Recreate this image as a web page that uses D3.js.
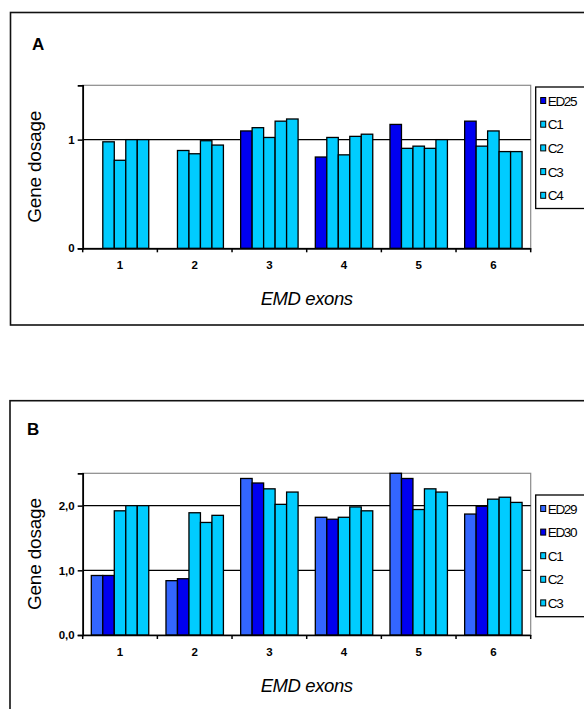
<!DOCTYPE html>
<html>
<head>
<meta charset="utf-8">
<script src="https://cdn.jsdelivr.net/npm/d3@7"></script>
<style>
  html, body { margin: 0; padding: 0; background: #fff; }
  svg { display: block; }
  text { font-family: "Liberation Sans", Arial, sans-serif; }
</style>
</head>
<body>
<svg id="chart" width="584" height="709"></svg>
<script>
// ---------- data ----------
const exons = ["1", "2", "3", "4", "5", "6"];

// Panel A
const seriesA = ["ED25", "C1", "C2", "C3", "C4"];
const aED25 = [null, null, 1.08, 0.84, 1.14, 1.17];
const aC1   = [0.98, 0.90, 1.11, 1.02, 0.92, 0.94];
const aC2   = [0.81, 0.87, 1.02, 0.86, 0.94, 1.08];
const aC3   = [1.00, 0.99, 1.17, 1.03, 0.92, 0.89];
const aC4   = [1.00, 0.95, 1.19, 1.05, 1.00, 0.89];
const yTicksA = [0, 1];
const yTickLabelsA = ["0", "1"];

// Panel B
const seriesB = ["ED29", "ED30", "C1", "C2", "C3"];
const bED29 = [0.92, 0.84, 2.42, 1.82, 2.50, 1.87];
const bED30 = [0.92, 0.87, 2.35, 1.79, 2.42, 1.99];
const bC1   = [1.92, 1.89, 2.26, 1.82, 1.94, 2.10];
const bC2   = [2.00, 1.74, 2.02, 1.98, 2.26, 2.13];
const bC3   = [2.00, 1.85, 2.21, 1.92, 2.21, 2.05];
const yTicksB = [0, 1, 2];
const yTickLabelsB = ["0,0", "1,0", "2,0"];

const colorsA = ["#0000f0", "#00ccff", "#00ccff", "#00ccff", "#00ccff"];
const colorsB = ["#3366ff", "#0000f0", "#00ccff", "#00ccff", "#00ccff"];

// ---------- drawing ----------
const svg = d3.select("#chart");

function drawPanel(cfg) {
  const g = svg.append("g");

  // outer frame
  g.append("rect")
    .attr("x", cfg.frame[0]).attr("y", cfg.frame[1])
    .attr("width", cfg.frame[2]).attr("height", cfg.frame[3])
    .attr("fill", "none").attr("stroke", "#111").attr("stroke-width", 1.6);

  // panel letter
  g.append("text")
    .attr("x", cfg.letterPos[0]).attr("y", cfg.letterPos[1])
    .attr("font-size", 17).attr("font-weight", "bold")
    .attr("fill", "#000")
    .text(cfg.letter);

  const x0 = d3.scaleBand().domain(exons).range([cfg.left, cfg.right]).paddingInner(0).paddingOuter(0);
  const x1 = d3.scaleBand().domain(cfg.series).range([0, x0.bandwidth()]).paddingInner(0).paddingOuter(0.75);
  const y = d3.scaleLinear().domain(cfg.domain).range([cfg.bottom, cfg.top]);

  // plot area border (gray)
  g.append("rect")
    .attr("x", cfg.left).attr("y", cfg.top)
    .attr("width", cfg.right - cfg.left).attr("height", cfg.bottom - cfg.top)
    .attr("fill", "none").attr("stroke", "#8a8a8a").attr("stroke-width", 1.2);

  // gridlines
  g.selectAll(".grid").data(cfg.ticks.filter(t => t > 0)).enter()
    .append("line")
    .attr("x1", cfg.left).attr("x2", cfg.right)
    .attr("y1", d => y(d)).attr("y2", d => y(d))
    .attr("stroke", "#000").attr("stroke-width", 1.2);

  // bars
  const rows = [];
  exons.forEach((ex, i) => {
    cfg.series.forEach((s, j) => {
      const v = cfg.values[j][i];
      if (v !== null) rows.push({ ex, s, v, c: cfg.colors[j] });
    });
  });
  g.selectAll(".bar").data(rows).enter()
    .append("rect")
    .attr("x", d => x0(d.ex) + x1(d.s))
    .attr("y", d => y(d.v))
    .attr("width", x1.bandwidth())
    .attr("height", d => y(0) - y(d.v))
    .attr("fill", d => d.c)
    .attr("stroke", "#000").attr("stroke-width", 1.3);

  // y axis
  const yAxis = d3.axisLeft(y).tickValues(cfg.ticks)
    .tickFormat((d, i) => cfg.tickLabels[i]).tickSize(5).tickPadding(3);
  const ya = g.append("g").attr("transform", `translate(${cfg.left},0)`).call(yAxis);
  ya.select(".domain").attr("stroke", "#000").attr("stroke-width", 1.7);
  ya.selectAll(".tick line").attr("stroke", "#000").attr("stroke-width", 1.5);
  ya.selectAll(".tick text")
    .attr("font-family", "Liberation Sans, Arial, sans-serif")
    .attr("font-size", 11.5).attr("font-weight", "bold").attr("fill", "#000");

  // x axis
  const xAxis = d3.axisBottom(x0).tickSize(0).tickPadding(13);
  const xa = g.append("g").attr("transform", `translate(0,${y(0)})`).call(xAxis);
  xa.select(".domain").attr("stroke", "#000").attr("stroke-width", 1.7);
  xa.selectAll(".tick text")
    .attr("font-family", "Liberation Sans, Arial, sans-serif")
    .attr("font-size", 11.5).attr("font-weight", "bold").attr("fill", "#000");
  // category boundary ticks
  const bounds = exons.map(e => x0(e)).concat([cfg.right]);
  g.selectAll(".xtick").data(bounds).enter()
    .append("line")
    .attr("x1", d => d).attr("x2", d => d)
    .attr("y1", y(0)).attr("y2", y(0) + 4)
    .attr("stroke", "#000").attr("stroke-width", 1.5);

  // axis titles
  g.append("text")
    .attr("transform", `translate(${cfg.yTitleX},${(cfg.top + cfg.bottom) / 2}) rotate(-90)`)
    .attr("text-anchor", "middle")
    .attr("font-size", 19).attr("fill", "#000")
    .attr("letter-spacing", "-0.2")
    .text("Gene dosage");
  g.append("text")
    .attr("x", (cfg.left + cfg.right) / 2).attr("y", cfg.xTitleY)
    .attr("text-anchor", "middle")
    .attr("font-size", 18.5).attr("font-style", "italic").attr("fill", "#000")
    .attr("letter-spacing", "-0.4")
    .text("EMD exons");

  // legend
  const lg = g.append("g");
  lg.append("rect")
    .attr("x", cfg.legend[0]).attr("y", cfg.legend[1])
    .attr("width", 80).attr("height", cfg.legend[2])
    .attr("fill", "#fff").attr("stroke", "#000").attr("stroke-width", 1.3);
  const items = lg.selectAll(".li").data(cfg.series).enter().append("g")
    .attr("transform", (d, i) => `translate(${cfg.legend[0] + 5},${cfg.legendY0 + i * cfg.legendStep})`);
  items.append("rect")
    .attr("x", 0).attr("y", -3).attr("width", 5).attr("height", 6)
    .attr("fill", (d, i) => cfg.colors[i]).attr("stroke", "#000").attr("stroke-width", 1);
  items.append("text")
    .attr("x", 7).attr("y", 5)
    .attr("font-size", 13.5).attr("letter-spacing", "-1.3").attr("fill", "#000")
    .text(d => d);
}

drawPanel({
  letter: "A", letterPos: [32, 50],
  frame: [10.5, 12.5, 600, 312.5],
  left: 82.7, right: 530.7, top: 85.3, bottom: 248.3,
  domain: [0, 1.5], ticks: yTicksA, tickLabels: yTickLabelsA,
  series: seriesA, values: [aED25, aC1, aC2, aC3, aC4], colors: colorsA,
  yTitleX: 41, xTitleY: 305,
  legend: [535.7, 87, 121.5], legendY0: 100.5, legendStep: 23.7
});

drawPanel({
  letter: "B", letterPos: [27, 435],
  frame: [10, 400.7, 600, 400],
  left: 82.7, right: 530.7, top: 473.3, bottom: 635,
  domain: [0, 2.5], ticks: yTicksB, tickLabels: yTickLabelsB,
  series: seriesB, values: [bED29, bED30, bC1, bC2, bC3], colors: colorsB,
  yTitleX: 41, xTitleY: 691.5,
  legend: [535.7, 495, 121.7], legendY0: 508.5, legendStep: 23.6
});
</script>
</body>
</html>
